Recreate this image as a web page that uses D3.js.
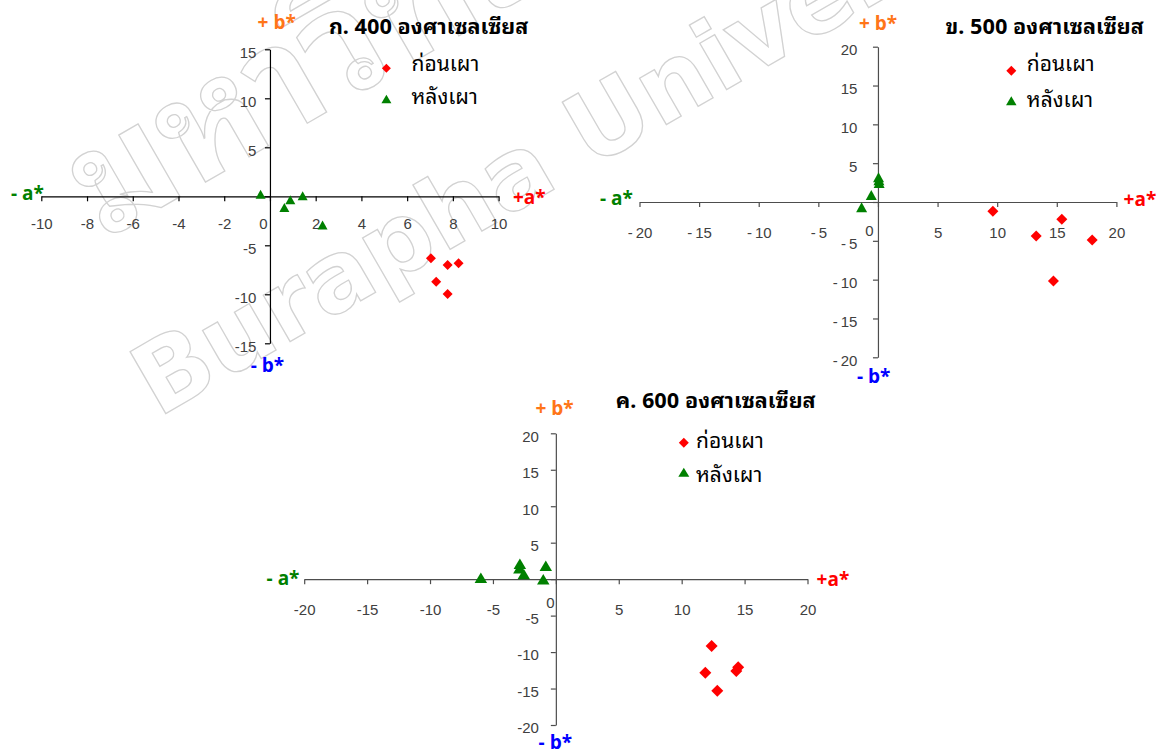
<!DOCTYPE html>
<html>
<head>
<meta charset="utf-8">
<script src="https://cdn.jsdelivr.net/npm/d3@7"></script>
<style>
	body { margin: 0; background: #fff; }
	svg { display: block; }
	.thai { font-family: 'Noto Sans Thai Looped', 'Noto Sans Thai', Tahoma, Loma, Garuda, 'Noto Sans', sans-serif; }
	.axis-name { font-family: 'Open Sans', 'DejaVu Sans', sans-serif; font-weight: bold; }
</style>
</head>
<body>
<div id="viz"></div>
<script>
// ---- data (a*, b*) ----
const TITLES = ['ก. 400 องศาเซลเซียส', 'ข. 500 องศาเซลเซียส', 'ค. 600 องศาเซลเซียส'];
const LEGEND_LABELS = ['ก่อนเผา', 'หลังเผา'];
const AXIS_NAMES = ['+ b*', '- b*', '- a*', '+a*'];

const before400 = [[7.04, -6.33], [7.77, -7.0], [8.25, -6.84], [7.27, -8.71], [7.77, -9.97]];
const after400 = [[-0.41, 0.2], [0.89, -0.36], [0.63, -1.14], [1.43, 0.05], [2.3, -2.94]];

const before500 = [[9.64, -1.2], [15.42, -2.23], [13.27, -4.38], [17.97, -4.89], [14.72, -10.17]];
const after500 = [[-1.37, -0.68], [-0.56, 0.9], [0.05, 3.2], [0.1, 2.45], [0.08, 2.8]];

const before600 = [[12.38, -9.16], [11.88, -12.83], [14.34, -12.59], [14.49, -12.09], [12.83, -15.29]];
const after600 = [[-5.96, 0.2], [-2.86, 2.1], [-2.9, 1.5], [-2.55, 0.7], [-0.8, 1.85], [-1.0, 0.0]];

const ticks400X = [-10, -8, -6, -4, -2, 0, 2, 4, 6, 8, 10];
const ticks400Y = [-15, -10, -5, 0, 5, 10, 15];
const ticks500 = [-20, -15, -10, -5, 0, 5, 10, 15, 20];
const ticks600 = [-20, -15, -10, -5, 0, 5, 10, 15, 20];

const WATERMARK = ['Burapha University', 'มหาวิทยาลัยบูรพา'];

// ---- colours ----
const RED = '#ff0000';
const GREEN = '#008000';
const ORANGE = '#ff7518';
const BLUE = '#0000ff';

const WIDTH = 1156;
const HEIGHT = 749;

const plainFmt = (d) => { return d === 0 ? '0' : String(d); };
const spacedFmt = (d) => { return d < 0 ? '-\u2009' + Math.abs(d) : String(d); };

// layout of the three panels (pixels)
const panels = [
	{
		title: TITLES[0], before: before400, after: after400,
		xTicks: ticks400X, yTicks: ticks400Y, xDomain: [-10, 10], yDomain: [-15, 15],
		xRange: [41.3, 498.6], yRange: [343.3, 49.3], fmt: plainFmt, axisColor: '#000',
		xLabelOff: 27.5, yLabelOff: -13.5, yLabelShift: 3, zeroShift: [-7, 0],
		diamond: 5, tri: [10, 9], legDiamond: 4.5, legTri: [10, 8.5],
		plusB: [257.6, 21.7], minusA: [11, 193], plusA: [513, 196.7], minusB: [250.7, 365],
		titlePos: [328.9, 26.7], legMarkX: 386.4, legMarkY: [68.3, 99], legTextX: 411.5, legTextY: [63, 96.7]
	},
	{
		title: TITLES[1], before: before500, after: after500,
		xTicks: ticks500, yTicks: ticks500, xDomain: [-20, 20], yDomain: [-20, 20],
		xRange: [639.5, 1116.4], yRange: [357.3, 46.7], fmt: spacedFmt, axisColor: '#4d4d4d',
		xLabelOff: 30.6, yLabelOff: -20.5, yLabelShift: 2.5, zeroShift: [-9, -2],
		diamond: 5.5, tri: [11, 10], legDiamond: 5, legTri: [10.5, 9],
		plusB: [859, 22.7], minusA: [600, 197.7], plusA: [1123.6, 199], minusB: [857, 376],
		titlePos: [945.6, 26.7], legMarkX: 1011.3, legMarkY: [70.7, 100.7], legTextX: 1026.8, legTextY: [63.3, 99]
	},
	{
		title: TITLES[2], before: before600, after: after600,
		xTicks: ticks600, yTicks: ticks600, xDomain: [-20, 20], yDomain: [-20, 20],
		xRange: [304.2, 807.5], yRange: [725, 433.3], fmt: plainFmt, axisColor: '#4d4d4d',
		xLabelOff: 30.7, yLabelOff: -17, yLabelShift: 2.5, zeroShift: [-6, -7],
		diamond: 6, tri: [12.5, 10.5], legDiamond: 5, legTri: [11, 9],
		plusB: [535.5, 408.3], minusA: [266.6, 578.3], plusA: [816.6, 579.3], minusB: [538.6, 741.7],
		titlePos: [615.8, 400], legMarkX: 683.8, legMarkY: [442.7, 472.3], legTextX: 696, legTextY: [440, 474.3]
	}
];

const diamondPath = (x, y, r) => {
	return 'M' + x + ',' + (y - r) + 'L' + (x + r) + ',' + y + 'L' + x + ',' + (y + r) + 'L' + (x - r) + ',' + y + 'Z';
};

const trianglePath = (x, y, w, h) => {
	return 'M' + x + ',' + (y - h / 2) + 'L' + (x + w / 2) + ',' + (y + h / 2) + 'L' + (x - w / 2) + ',' + (y + h / 2) + 'Z';
};

const svg = d3.select('#viz').append('svg')
	.attr('width', WIDTH)
	.attr('height', HEIGHT);

// watermark behind everything
const mark = svg.append('g')
	.attr('class', 'watermark')
	.attr('fill', 'none')
	.attr('stroke', '#d2d2d2')
	.attr('stroke-width', 1.3);

mark.append('text')
	.attr('transform', 'translate(158,418) rotate(-30)')
	.attr('font-family', 'DejaVu Sans, Verdana, sans-serif')
	.attr('font-weight', 'bold')
	.attr('font-size', 98)
	.text(WATERMARK[0]);

mark.append('text')
	.attr('class', 'thai')
	.attr('transform', 'translate(105,240) rotate(-30)')
	.attr('font-weight', 'bold')
	.attr('font-size', 150)
	.text(WATERMARK[1]);

panels.forEach((p) => {
	const x = d3.scaleLinear().domain(p.xDomain).range(p.xRange);
	const y = d3.scaleLinear().domain(p.yDomain).range(p.yRange);
	const g = svg.append('g').attr('class', 'panel');

	// horizontal axis through b* = 0
	const xAxis = g.append('g')
		.attr('class', 'x axis')
		.attr('transform', 'translate(0,' + y(0) + ')')
		.call(d3.axisBottom(x).tickValues(p.xTicks).tickSize(5).tickSizeOuter(0).tickFormat(p.fmt));

	// vertical axis through a* = 0
	const yAxis = g.append('g')
		.attr('class', 'y axis')
		.attr('transform', 'translate(' + x(0) + ',0)')
		.call(d3.axisLeft(y).tickValues(p.yTicks).tickSize(5).tickSizeOuter(0)
			.tickFormat((d) => { return d === 0 ? '' : p.fmt(d); }));

	[xAxis, yAxis].forEach((a) => {
		a.attr('font-family', 'Liberation Sans, Arial, sans-serif')
			.attr('font-size', 15);
		a.selectAll('path.domain').attr('stroke', p.axisColor).attr('stroke-width', 1.2);
		a.selectAll('.tick line').attr('stroke', p.axisColor).attr('stroke-width', 1.2);
		a.selectAll('.tick text').attr('fill', '#404040');
	});

	xAxis.selectAll('.tick text')
		.attr('y', (d) => { return p.xLabelOff + (d === 0 ? p.zeroShift[1] : 0); })
		.attr('x', (d) => { return d === 0 ? p.zeroShift[0] : 0; })
		.attr('dy', '0.36em');

	yAxis.selectAll('.tick text')
		.attr('x', p.yLabelOff)
		.attr('y', p.yLabelShift)
		.attr('dy', '0.36em');

	// data marks
	g.append('g').selectAll('.before')
		.data(p.before)
		.enter()
		.append('path')
		.attr('class', 'before')
		.attr('fill', RED)
		.attr('d', (d) => { return diamondPath(x(d[0]), y(d[1]), p.diamond); });

	g.append('g').selectAll('.after')
		.data(p.after)
		.enter()
		.append('path')
		.attr('class', 'after')
		.attr('fill', GREEN)
		.attr('d', (d) => { return trianglePath(x(d[0]), y(d[1]), p.tri[0], p.tri[1]); });

	// axis names
	const names = [
		{ t: AXIS_NAMES[0], pos: p.plusB, c: ORANGE },
		{ t: AXIS_NAMES[1], pos: p.minusB, c: BLUE },
		{ t: AXIS_NAMES[2], pos: p.minusA, c: GREEN },
		{ t: AXIS_NAMES[3], pos: p.plusA, c: RED }
	];
	g.selectAll('.axis-name')
		.data(names)
		.enter()
		.append('text')
		.attr('class', 'axis-name')
		.attr('x', (d) => { return d.pos[0]; })
		.attr('y', (d) => { return d.pos[1]; })
		.attr('dy', '0.36em')
		.attr('font-size', 19)
		.attr('fill', (d) => { return d.c; })
		.text((d) => { return d.t; });

	// title
	g.append('text')
		.attr('class', 'thai')
		.attr('x', p.titlePos[0])
		.attr('y', p.titlePos[1])
		.attr('dy', '0.36em')
		.attr('font-size', 21.5)
		.attr('font-weight', 'bold')
		.attr('fill', '#000')
		.text(p.title);

	// legend
	g.append('path')
		.attr('fill', RED)
		.attr('d', diamondPath(p.legMarkX, p.legMarkY[0], p.legDiamond));
	g.append('path')
		.attr('fill', GREEN)
		.attr('d', trianglePath(p.legMarkX, p.legMarkY[1], p.legTri[0], p.legTri[1]));

	g.selectAll('.legend-text')
		.data(LEGEND_LABELS)
		.enter()
		.append('text')
		.attr('class', 'thai legend-text')
		.attr('x', p.legTextX)
		.attr('y', (d, i) => { return p.legTextY[i]; })
		.attr('dy', '0.36em')
		.attr('font-size', 21)
		.attr('fill', '#000')
		.text((d) => { return d; });
});
</script>
</body>
</html>
